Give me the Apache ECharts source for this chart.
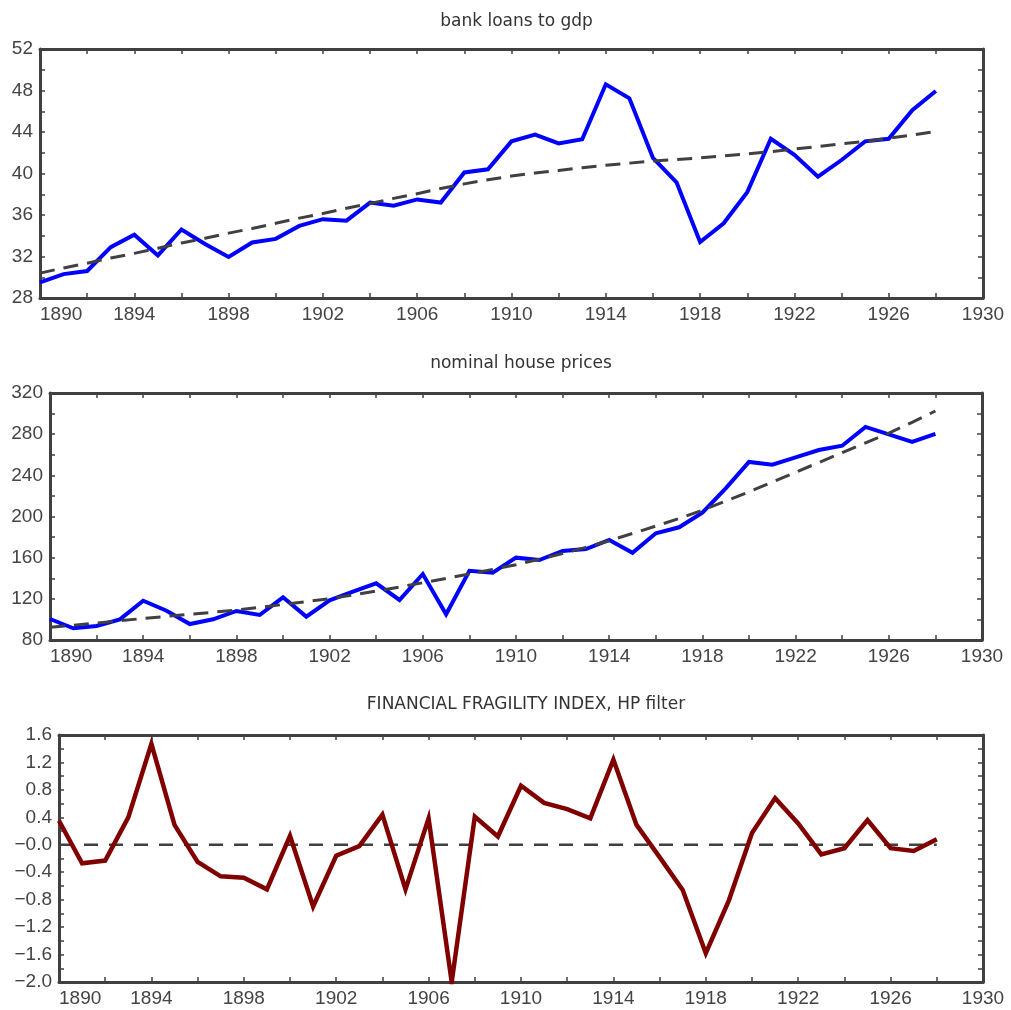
<!DOCTYPE html>
<html>
<head>
<meta charset="utf-8">
<script src="https://cdn.jsdelivr.net/npm/echarts@6/dist/echarts.min.js"></script>
<style>
html,body{margin:0;padding:0;background:#fff;}
#chart{width:1011px;height:1010px;}
</style>
</head>
<body>
<div id="chart"></div>
<script>
const years = [1890,1891,1892,1893,1894,1895,1896,1897,1898,1899,1900,1901,1902,1903,1904,1905,1906,1907,1908,1909,1910,1911,1912,1913,1914,1915,1916,1917,1918,1919,1920,1921,1922,1923,1924,1925,1926,1927,1928];

const loansToGdp = [29.5,30.3,30.6,32.9,34.1,32.1,34.6,33.2,31.95,33.35,33.7,34.95,35.6,35.45,37.2,36.9,37.5,37.2,40.1,40.4,43.1,43.75,42.9,43.3,48.6,47.25,41.5,39.15,33.4,35.2,38.2,43.35,41.8,39.7,41.3,43.1,43.35,46.1,47.95];
const loansTrend = [30.4,30.9,31.35,31.85,32.3,32.8,33.3,33.75,34.25,34.7,35.2,35.7,36.15,36.65,37.1,37.6,38.05,38.55,39.0,39.4,39.75,40.05,40.3,40.55,40.8,41.0,41.2,41.35,41.5,41.7,41.9,42.1,42.35,42.6,42.85,43.1,43.4,43.7,44.05];

const housePrices = [100.4,91.4,93.6,100.1,118.2,108.5,95.5,100.1,108.2,104.3,121.5,102.7,118.5,126.9,135.1,118.9,144.1,105,147.3,145.4,160,157.7,166.5,168.4,177.2,164.8,183.7,189.5,203.7,227.4,253,250.3,257.5,264.6,268.8,287,279.8,272.4,280.2];
const houseTrend = [92.3,94.4,96.5,98.7,100.9,103,105,107,109.1,111.8,114.5,117.3,120.2,123.8,127.5,131.5,135.6,139.8,144.1,148.6,153.2,158.5,164,170,176.5,183.5,190.7,198,206,215,224,233.5,243,252.5,262,271.5,281,291.5,302.5];

const fragility = [0.35,-0.27,-0.23,0.40,1.47,0.29,-0.25,-0.46,-0.48,-0.65,0.13,-0.9,-0.16,-0.02,0.44,-0.65,0.385,-2.0,0.41,0.12,0.86,0.61,0.52,0.385,1.24,0.29,-0.18,-0.66,-1.58,-0.81,0.17,0.68,0.31,-0.14,-0.05,0.36,-0.05,-0.09,0.08];
const zeroSpanYears = [1890, 1928];
const zeroSpanValues = [0, 0];

const titles = ['bank loans to gdp', 'nominal house prices', 'FINANCIAL FRAGILITY INDEX, HP filter'];
const yRanges = [[28, 52, 4], [80, 320, 40], [-2.0, 1.6, 0.4]];
const xRange = [1890, 1930, 4];

const pair = (xs, ys) => xs.map((x, i) => [x, ys[i]]);

const grids = [
  {left: 40, right: 28, top: 49, height: 249, outerBoundsMode: 'none'},
  {left: 50, right: 29, top: 393, height: 247, outerBoundsMode: 'none'},
  {left: 59, right: 28, top: 735, height: 247, outerBoundsMode: 'none'}
];
const titleTops = [8, 350, 691];

const axisColor = '#404040';
const labelFont = {fontFamily: '"Liberation Sans", Arial, sans-serif', fontSize: 19, color: '#444'};

function fmtY(panel) {
  return function (v) {
    if (panel === 2) {
      if (Math.abs(v) < 1e-9) return '\u22120.0';
      return (v < 0 ? '\u2212' : '') + Math.abs(v).toFixed(1);
    }
    return String(Math.round(v));
  };
}

const tickCommon = {
  axisLine: {show: true, onZero: false, lineStyle: {color: axisColor, width: 3}},
  axisTick: {show: true, inside: true, length: 5, lineStyle: {color: axisColor, width: 1.5}},
  minorTick: {show: true, splitNumber: 2, length: 5, lineStyle: {color: axisColor, width: 1.5}},
  splitLine: {show: false}
};

const xAxes = [], yAxes = [], series = [], titleList = [];
grids.forEach((g, i) => {
  const cx = g.left + (1011 - g.left - g.right) / 2;
  titleList.push({
    text: titles[i], left: cx, top: titleTops[i], textAlign: 'center',
    textStyle: {fontFamily: '"DejaVu Sans", sans-serif', fontSize: 17, fontWeight: 'normal', color: '#333'}
  });
  xAxes.push(Object.assign({
    type: 'value', gridIndex: i, position: 'bottom', min: xRange[0], max: xRange[1], interval: xRange[2],
    axisLabel: Object.assign({margin: 7, alignMinLabel: 'left', formatter: v => String(v)}, labelFont)
  }, tickCommon));
  xAxes.push(Object.assign({
    type: 'value', gridIndex: i, position: 'top', min: xRange[0], max: xRange[1], interval: xRange[2],
    axisLabel: {show: false}
  }, tickCommon));
  const yr = yRanges[i];
  yAxes.push(Object.assign({
    type: 'value', gridIndex: i, position: 'left', min: yr[0], max: yr[1], interval: yr[2],
    axisLabel: Object.assign({margin: 7, formatter: fmtY(i)}, labelFont)
  }, tickCommon));
  yAxes.push(Object.assign({
    type: 'value', gridIndex: i, position: 'right', min: yr[0], max: yr[1], interval: yr[2],
    axisLabel: {show: false}
  }, tickCommon));
});

function lineSeries(gi, data, color, width, dash) {
  return {
    type: 'line', xAxisIndex: gi * 2, yAxisIndex: gi * 2, data: data,
    symbol: 'none', silent: true, animation: false,
    lineStyle: {color: color, width: width, type: dash || 'solid', cap: 'butt', join: 'miter'},
    z: dash ? 3 : 2
  };
}

series.push(lineSeries(0, pair(years, loansToGdp), '#0000ff', 4, null));
series.push(lineSeries(0, pair(years, loansTrend), '#404040', 3, [15, 9]));
series.push(lineSeries(1, pair(years, housePrices), '#0000ff', 4, null));
series.push(lineSeries(1, pair(years, houseTrend), '#404040', 3, [15, 9]));
series.push(lineSeries(2, pair(zeroSpanYears, zeroSpanValues), '#404040', 2.5, [14, 11]));
series.push(lineSeries(2, pair(years, fragility), '#800000', 4.5, null));
series[5].z = 4;

const chart = echarts.init(document.getElementById('chart'), null, {renderer: 'canvas'});
chart.setOption({
  backgroundColor: '#ffffff',
  animation: false,
  title: titleList,
  grid: grids,
  xAxis: xAxes,
  yAxis: yAxes,
  series: series
});
</script>
</body>
</html>
